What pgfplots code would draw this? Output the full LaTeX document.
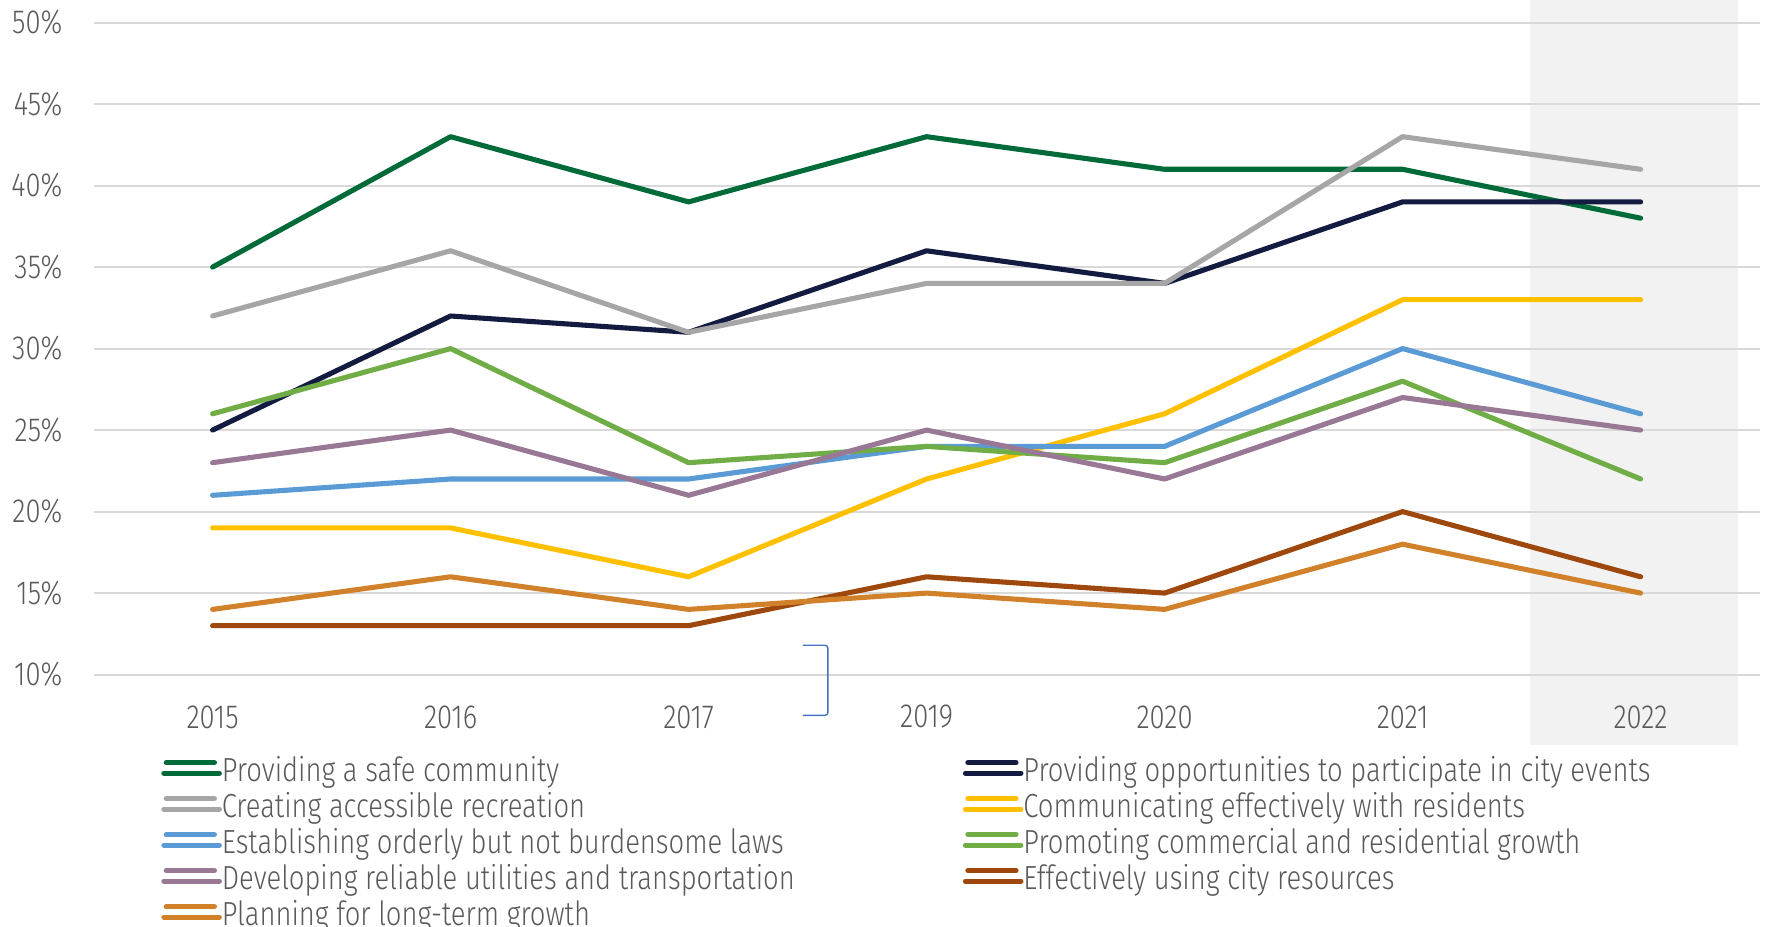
\documentclass[border=0pt]{standalone}
\usepackage{pgfplots}
\pgfplotsset{compat=1.18}
\usepackage{fontspec}
\setmainfont{Fira Sans}[UprightFont=* Light, FakeStretch=0.82]
\definecolor{txt}{HTML}{595959}
\definecolor{gridc}{HTML}{D9D9D9}
\definecolor{cShade}{HTML}{F2F2F2}
\definecolor{cSafe}{HTML}{006A38}
\definecolor{cOpp}{HTML}{141B41}
\definecolor{cRec}{HTML}{A6A6A6}
\definecolor{cComm}{HTML}{FFC000}
\definecolor{cLaw}{HTML}{5B9BD5}
\definecolor{cGrow}{HTML}{70AD47}
\definecolor{cUtil}{HTML}{997896}
\definecolor{cRes}{HTML}{9E480E}
\definecolor{cPlan}{HTML}{D2812B}
\definecolor{cBr}{HTML}{4472C4}
\newcommand{\fc}[1]{\makebox[74.1mm][l]{#1}}
\begin{document}
\fontsize{9.5}{11}\selectfont
\begin{tikzpicture}
\begin{axis}[
  width=166.6mm, height=65.2mm, scale only axis,
  xmin=-0.5, xmax=6.5, ymin=10, ymax=50,
  clip=false, hide axis,
]
\fill[cShade] (axis cs:5.535,5.7) rectangle (axis cs:6.41,51.4);
\end{axis}
\begin{axis}[
  width=166.6mm, height=65.2mm, scale only axis,
  xmin=-0.5, xmax=6.5, ymin=10, ymax=50,
  clip=false,
  axis line style={draw=none},
  major tick length=0pt,
  xtick={0,1,2,3,4,5,6},
  xticklabels={2015,2016,2017,2019,2020,2021,2022},
  ytick={10,15,...,50},
  yticklabel={\pgfmathprintnumber{\tick}\%},
  /pgf/number format/assume math mode=true,
  ymajorgrids, grid style={gridc, line width=0.6pt},
  ticklabel style={font=\fontsize{9.5}{11}\selectfont, text=txt, inner sep=0pt},
  xticklabel style={anchor=center, yshift=-4.24mm},
  yticklabel style={anchor=east, xshift=-3.06mm},
  legend columns=2,
  legend cell align=left,
  legend style={at={(axis description cs:0,0)}, anchor=north west, xshift=6.77mm, yshift=-8.05mm,
    draw=none, fill=none, inner sep=0pt, outer sep=0pt, column sep=0pt, row sep=0pt,
    nodes={inner sep=0pt, outer sep=0pt, text height=2.6mm, text depth=1.0mm, text=txt, font=\fontsize{9.5}{11}\selectfont}},
  legend image code/.code={
    \path (0mm,0mm) -- (5.55mm,0mm);
    \draw[#1, line width=1.5pt, line cap=round] (0.25mm,1.05mm) -- (5.05mm,1.05mm);
  },
  every axis plot/.append style={line width=1.45pt, line cap=round, line join=round},
]
\addplot[cSafe] coordinates {(0,35) (1,43) (2,39) (3,43) (4,41) (5,41) (6,38)};
\addlegendentry{\fc{Providing a safe community}}
\addplot[cOpp] coordinates {(0,25) (1,32) (2,31) (3,36) (4,34) (5,39) (6,39)};
\addlegendentry{Providing opportunities to participate in city events}
\addplot[cRec] coordinates {(0,32) (1,36) (2,31) (3,34) (4,34) (5,43) (6,41)};
\addlegendentry{\fc{Creating accessible recreation}}
\addplot[cComm] coordinates {(0,19) (1,19) (2,16) (3,22) (4,26) (5,33) (6,33)};
\addlegendentry{Communicating effectively with residents}
\addplot[cLaw] coordinates {(0,21) (1,22) (2,22) (3,24) (4,24) (5,30) (6,26)};
\addlegendentry{\fc{Establishing orderly but not burdensome laws}}
\addplot[cGrow] coordinates {(0,26) (1,30) (2,23) (3,24) (4,23) (5,28) (6,22)};
\addlegendentry{Promoting commercial and residential growth}
\addplot[cUtil] coordinates {(0,23) (1,25) (2,21) (3,25) (4,22) (5,27) (6,25)};
\addlegendentry{\fc{Developing reliable utilities and transportation}}
\addplot[cRes] coordinates {(0,13) (1,13) (2,13) (3,16) (4,15) (5,20) (6,16)};
\addlegendentry{Effectively using city resources}
\addplot[cPlan] coordinates {(0,14) (1,16) (2,14) (3,15) (4,14) (5,18) (6,15)};
\addlegendentry{\fc{Planning for long-term growth}}
\draw[cBr, line width=0.4pt, rounded corners=0.8pt] (axis cs:2.48,11.8) -- (axis cs:2.585,11.8) -- (axis cs:2.585,7.5) -- (axis cs:2.48,7.5);
\end{axis}
\pgfresetboundingbox
\useasboundingbox (-9.36mm,-25.24mm) rectangle (167.54mm,67.46mm);
\end{tikzpicture}
\end{document}
